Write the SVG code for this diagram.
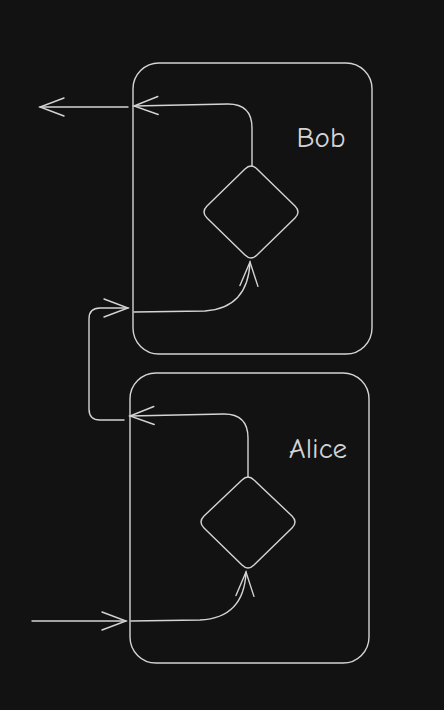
<svg xmlns="http://www.w3.org/2000/svg" width="444" height="710" viewBox="0 0 444 710">
<style>
.s{fill:none;stroke:#d4d4d4;stroke-width:1.4;stroke-linecap:round;stroke-linejoin:round}
.a{fill:none;stroke:#d4d4d4;stroke-width:1.4;stroke-linecap:round;stroke-linejoin:round;marker-end:url(#ah)}
.t{fill:#d4d4d4;font-family:"Comic Neue","Liberation Sans",sans-serif;font-size:29px;text-anchor:middle}
</style>
<defs>
<marker id="ah" markerUnits="userSpaceOnUse" markerWidth="30" markerHeight="24" viewBox="-27 -12 30 24" refX="0" refY="0" orient="auto">
<path d="M-24,-9 L0,0 L-24,9" fill="none" stroke="#d4d4d4" stroke-width="1.4" stroke-linecap="round"/>
</marker>
</defs>
<rect width="444" height="710" fill="#121212"/>
<g id="bob">
<rect class="s" x="133" y="63" width="239" height="291" rx="26"/>
<text class="t" x="321" y="147">Bob</text>
</g>
<g id="bob-decision">
<path class="s" d="M245,169 Q251,163 257,169 L295,206 Q301,212 295,218 L257,255 Q251,261 245,255 L207,218 Q201,212 207,206 Z"/>
</g>
<g id="alice">
<rect class="s" x="130" y="373" width="239" height="290" rx="26"/>
<text class="t" x="318" y="458">Alice</text>
</g>
<g id="alice-decision">
<path class="s" d="M242,480 Q248,474 254,480 L292,516 Q298,522 292,528 L254,565 Q248,571 242,565 L204,528 Q198,522 204,516 Z"/>
</g>
<g id="connectors">
<path class="a" d="M128,107 L40,107"/>
<path class="a" d="M252,166 L252,128 Q252,104 228,104 L134,106"/>
<path class="a" d="M134,312 L205,311 Q248,308 250,262"/>
<path class="a" d="M124,420 L100,420 Q89,420 89,409 L89,319 Q89,308 100,308 L128,308"/>
<path class="a" d="M248,477 L248,438 Q248,414 224,414 L130,416"/>
<path class="a" d="M131,621 L200,620 Q244,618 246,572"/>
<path class="a" d="M32,621 L126,621"/>
</g>
</svg>
